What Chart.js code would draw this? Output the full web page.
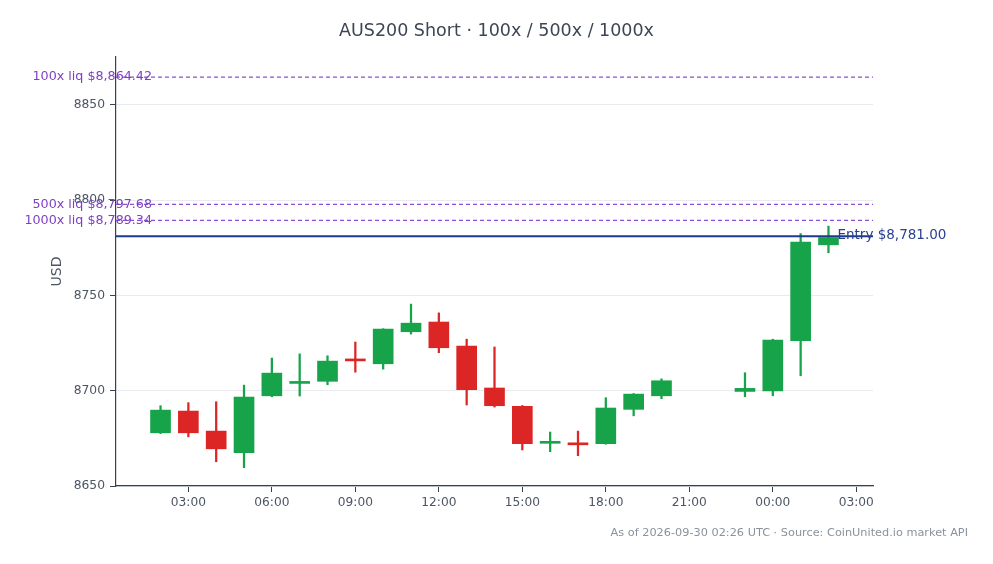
<!DOCTYPE html>
<html>
<head>
<meta charset="utf-8">
<script src="https://cdn.jsdelivr.net/npm/chart.js@4.4.0/dist/chart.umd.min.js"></script>
<style>
    html, body { margin: 0; padding: 0; background: #ffffff; }
    #wrap { width: 993px; height: 564px; }
</style>
</head>
<body>
<div id="wrap"><canvas id="priceChart" width="993" height="564"></canvas></div>
<script>
// hourly candles, x = hours since 00:00 of the first day
const hours  = [2, 3, 4, 5, 6, 7, 8, 9, 10, 11, 12, 13, 14, 15, 16, 17, 18, 19, 20, 23, 24, 25, 26];
const opens  = [8677.9, 8689.3, 8678.8, 8667.5, 8697.3, 8703.8, 8704.9, 8716.0, 8714.1, 8730.9, 8736.0, 8723.4,
                8701.4, 8691.8, 8672.4, 8672.3, 8672.2, 8690.2, 8697.3, 8699.6, 8699.9, 8726.2, 8776.5];
const highs  = [8692.1, 8693.7, 8694.2, 8702.9, 8717.1, 8719.3, 8718.3, 8725.5, 8732.5, 8745.4, 8740.8, 8727.0,
                8722.9, 8692.2, 8678.3, 8678.8, 8696.3, 8698.5, 8706.2, 8709.4, 8727.0, 8782.4, 8786.3];
const lows   = [8677.5, 8675.8, 8662.7, 8659.6, 8696.8, 8697.2, 8703.1, 8709.7, 8711.3, 8729.7, 8719.9, 8692.5,
                8691.4, 8668.9, 8668.0, 8665.9, 8671.9, 8686.8, 8695.8, 8696.8, 8697.3, 8707.8, 8772.3];
const closes = [8689.8, 8677.9, 8669.5, 8696.6, 8709.2, 8704.3, 8715.5, 8715.6, 8732.3, 8735.4, 8722.5, 8700.5,
                8692.1, 8672.2, 8672.9, 8671.6, 8690.9, 8698.2, 8705.2, 8701.2, 8726.5, 8777.9, 8780.3];

const entryPrice = 8781.00;
const liqLabels = ['100x', '500x', '1000x'];
const liqPrices = [8864.42, 8797.68, 8789.34];

const xMin = 0.4, xMax = 27.6;
const yMin = 8650, yMax = 8875;

const UP = '#16a34a';
const DOWN = '#dc2626';
const LIQ = '#8b4fd0';
const ENTRY = '#1e3a8a';
const FONT = "'DejaVu Sans', sans-serif";

const candleColors = hours.map((h, i) => closes[i] >= opens[i] ? UP : DOWN);

function fmtPrice(v) {
    return '$' + v.toLocaleString('en-US', {minimumFractionDigits: 2, maximumFractionDigits: 2});
}

function flatLine(price) {
    return [{x: xMin, y: price}, {x: xMax, y: price}];
}

const datasets = [
    {
        // bodies first so they sit over the wicks
        type: 'bar',
        data: hours.map((h, i) => ({x: h, y: [opens[i], closes[i]]})),
        backgroundColor: candleColors,
        barThickness: 20,
        minBarLength: 2,
        grouped: false,
    },
    {
        type: 'bar',
        data: hours.map((h, i) => ({x: h, y: [lows[i], highs[i]]})),
        backgroundColor: candleColors,
        barThickness: 1.6,
        grouped: false,
    },
    {
        type: 'line',
        data: flatLine(entryPrice),
        borderColor: ENTRY,
        borderWidth: 2.2,
        pointRadius: 0,
        order: -1,
    },
];
liqPrices.forEach(p => {
    datasets.push({
        type: 'line',
        data: flatLine(p),
        borderColor: LIQ,
        borderWidth: 1.2,
        borderDash: [4, 3],
        pointRadius: 0,
        order: -1,
    });
});

// text that chart.js has no slot for: title, footer, line labels
const overlayText = {
    id: 'overlayText',
    afterDraw(chart) {
        const ctx = chart.ctx;
        const x = chart.scales.x;
        const y = chart.scales.y;
        ctx.save();

        ctx.fillStyle = '#3d4654';
        ctx.font = '17.5px ' + FONT;
        ctx.textAlign = 'center';
        ctx.textBaseline = 'middle';
        ctx.fillText('AUS200 Short · 100x / 500x / 1000x', chart.width / 2, 31);

        ctx.fillStyle = '#8a929c';
        ctx.font = '11.3px ' + FONT;
        ctx.textAlign = 'right';
        ctx.fillText('As of 2026-09-30 02:26 UTC · Source: CoinUnited.io market API', 968, 533);

        ctx.fillStyle = '#7e3fc6';
        ctx.font = '12.7px ' + FONT;
        liqPrices.forEach((p, i) => {
            ctx.fillText(liqLabels[i] + ' liq ' + fmtPrice(p), x.left + 36, y.getPixelForValue(p));
        });

        ctx.fillStyle = '#2a3f8f';
        ctx.font = '13.5px ' + FONT;
        ctx.textAlign = 'left';
        ctx.fillText('Entry ' + fmtPrice(entryPrice), x.getPixelForValue(hours[hours.length - 1]) + 9,
            y.getPixelForValue(entryPrice) - 1);

        ctx.restore();
    }
};

const config = {
    type: 'bar',
    data: {datasets: datasets},
    options: {
        responsive: false,
        animation: false,
        layout: {
            padding: {top: 57, right: 120, bottom: 0, left: 45}
        },
        plugins: {
            legend: {display: false},
            tooltip: {enabled: false},
        },
        scales: {
            x: {
                type: 'linear',
                min: xMin,
                max: xMax,
                offset: false,
                grid: {
                    drawOnChartArea: false,
                    offset: false,
                    tickLength: 6,
                    tickColor: '#374151',
                },
                border: {color: '#374151', width: 1.2},
                ticks: {
                    stepSize: 3,
                    includeBounds: false,
                    padding: 4,
                    color: '#4b5563',
                    font: {family: FONT, size: 12.2},
                    callback: v => String(v % 24).padStart(2, '0') + ':00',
                },
                afterFit: scale => { scale.height = 78; },
            },
            y: {
                min: yMin,
                max: yMax,
                grid: {
                    color: '#e8eaee',
                    tickLength: 6,
                    tickColor: '#374151',
                },
                border: {color: '#374151', width: 1.2},
                ticks: {
                    stepSize: 50,
                    includeBounds: false,
                    padding: 5,
                    color: '#4b5563',
                    font: {family: FONT, size: 12.3},
                    callback: v => String(v),
                },
                title: {
                    display: true,
                    text: 'USD',
                    color: '#4b5563',
                    font: {family: FONT, size: 14},
                    padding: {top: 4, bottom: 4},
                },
                afterFit: scale => { scale.width = 71; },
            },
        },
    },
    plugins: [overlayText],
};

const priceChart = new Chart(document.getElementById('priceChart'), config);
</script>
</body>
</html>
